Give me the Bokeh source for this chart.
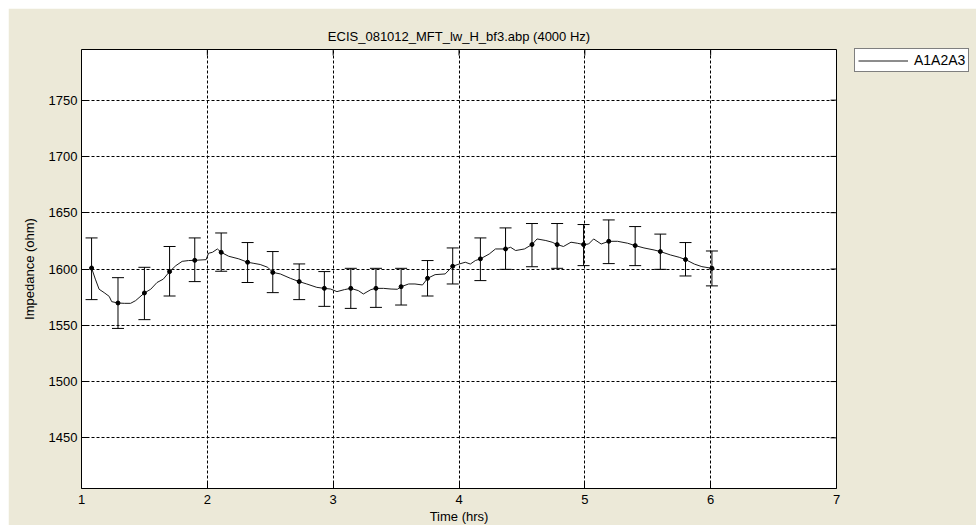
import math
from bokeh.plotting import figure
from bokeh.layouts import column, row
from bokeh.models import (Range1d, FixedTicker, Whisker, TeeHead, Spacer,
                          ColumnDataSource, Legend, LegendItem)
from bokeh.embed import file_html
from bokeh.resources import INLINE

title_text = "ECIS_081012_MFT_lw_H_bf3.abp (4000 Hz)"
series_name = "A1A2A3"

line_t = [1.08, 1.11, 1.14, 1.18, 1.22, 1.24, 1.29, 1.34, 1.39, 1.43, 1.50, 1.55, 1.60, 1.65,
          1.70, 1.75, 1.80, 1.85, 1.90, 1.99, 2.01, 2.04, 2.08, 2.11, 2.17, 2.25, 2.32, 2.37,
          2.42, 2.48, 2.52, 2.58, 2.66, 2.73, 2.79, 2.87, 2.93, 2.98, 3.03, 3.09, 3.14, 3.20,
          3.24, 3.30, 3.34, 3.40, 3.46, 3.51, 3.54, 3.60, 3.65, 3.71, 3.75, 3.81, 3.89, 3.95,
          4.00, 4.05, 4.09, 4.13, 4.17, 4.24, 4.29, 4.37, 4.41, 4.45, 4.52, 4.58, 4.62, 4.69,
          4.74, 4.78, 4.83, 4.89, 4.94, 4.99, 5.03, 5.07, 5.13, 5.19, 5.26, 5.34, 5.40, 5.47,
          5.55, 5.60, 5.68, 5.75, 5.80, 5.87, 5.93, 6.01]
line_z = [1600.9, 1591, 1582, 1579, 1575.7, 1571, 1569.8, 1569.5, 1569.5, 1571.9, 1578.7, 1582,
          1588, 1591, 1597.7, 1603, 1606.8, 1607.5, 1607.7, 1608.3, 1614, 1614.8, 1617.8, 1614.8,
          1611.3, 1609, 1606, 1605, 1604, 1601.5, 1597, 1595.6, 1591.7, 1588.8, 1586.7, 1583.7,
          1582.8, 1582.2, 1579.9, 1581.7, 1582.8, 1580.8, 1577.8, 1581.7, 1582.8, 1582.8, 1582.2,
          1582, 1584.3, 1586.7, 1586.7, 1585.8, 1591.7, 1595, 1595.6, 1602.4, 1604.4, 1606,
          1604.4, 1607.5, 1609, 1613.3, 1617.8, 1617.8, 1619.3, 1616.4, 1617.8, 1621.7, 1626.7,
          1625.3, 1623.8, 1621.7, 1620, 1623.8, 1622.9, 1621.7, 1622.2, 1626.7, 1622.2, 1624.6,
          1624.6, 1622.9, 1620.8, 1618.7, 1616.9, 1615.5, 1612.5, 1610.4, 1608.4, 1604.4, 1602.1,
          1600.6]

mark_t = [1.08, 1.29, 1.50, 1.70, 1.90, 2.11, 2.32, 2.52, 2.73, 2.93, 3.14, 3.34, 3.54, 3.75,
          3.95, 4.17, 4.37, 4.58, 4.78, 4.99, 5.19, 5.40, 5.60, 5.80, 6.01]
mark_z = [1600.9, 1569.8, 1578.7, 1597.7, 1607.7, 1614.8, 1606, 1597, 1588.8, 1582.8, 1582.8,
          1582.8, 1584.3, 1591.7, 1602.4, 1609, 1617.8, 1621.7, 1621.7, 1621.7, 1624.6, 1620.8,
          1615.5, 1608.4, 1600.6]
err_lo = [1572.8, 1547.2, 1555, 1576, 1588.8, 1598, 1588, 1579, 1572.8, 1566.8, 1565, 1565.9,
          1568, 1576, 1586.7, 1589.7, 1599.7, 1602, 1600.6, 1603, 1604.8, 1603, 1599.7, 1593.8,
          1585]
err_hi = [1627.6, 1592.3, 1601.5, 1620, 1627.6, 1632, 1623.5, 1615.5, 1604.5, 1597.7, 1600.6,
          1600.6, 1600.6, 1607.5, 1618.7, 1627.6, 1636.5, 1640.4, 1640.4, 1639.5, 1643.6, 1637.7,
          1631, 1623.5, 1616]

x_ticks = [1, 2, 3, 4, 5, 6, 7]
y_ticks = [1450, 1500, 1550, 1600, 1650, 1700, 1750]
x_min, x_max = 1, 7
y_min, y_max = 1405, 1795

FONT = "Liberation Sans"
BG = "#ECE9D8"

p = figure(frame_width=755, frame_height=439,
           min_border_left=73, min_border_right=140, min_border_top=41, min_border_bottom=37,
           x_range=Range1d(x_min, x_max), y_range=Range1d(y_min, y_max),
           output_backend="svg", toolbar_location=None)

p.background_fill_color = "white"
p.border_fill_color = BG
p.outline_line_color = "black"
p.outline_line_width = 1

p.title.text = title_text
p.title.align = "center"
p.title.text_font = FONT
p.title.text_font_size = "13px"
p.title.text_font_style = "normal"
p.title.text_color = "black"
p.title.standoff = 11

for ax in (p.xaxis[0], p.yaxis[0]):
    ax.major_label_text_font = FONT
    ax.major_label_text_font_size = "13px"
    ax.major_label_text_color = "black"
    ax.axis_label_text_font = FONT
    ax.axis_label_text_font_size = "13px"
    ax.axis_label_text_font_style = "normal"
    ax.axis_label_text_color = "black"
    ax.axis_line_color = None
    ax.major_tick_in = 6
    ax.major_tick_out = 0
    ax.major_tick_line_color = "black"
    ax.minor_tick_line_color = None

p.xaxis[0].ticker = FixedTicker(ticks=x_ticks)
p.yaxis[0].ticker = FixedTicker(ticks=y_ticks)
p.xaxis[0].axis_label = "Time (hrs)"
p.yaxis[0].axis_label = "Impedance (ohm)"
p.xaxis[0].major_label_standoff = 6
p.xaxis[0].axis_label_standoff = 2
p.yaxis[0].major_label_standoff = 4
p.yaxis[0].axis_label_standoff = 9

for g in (p.xgrid[0], p.ygrid[0]):
    g.grid_line_color = "black"
    g.grid_line_dash = "3 2"
    g.grid_line_width = 1
p.xgrid[0].ticker = FixedTicker(ticks=x_ticks)
p.ygrid[0].ticker = FixedTicker(ticks=y_ticks)

# inward ticks on the top and right edges of the box
p.ray(x=x_ticks, y=[y_max] * len(x_ticks), length=6, length_units="screen",
      angle=-math.pi / 2, line_color="black", line_width=1)
p.ray(x=[x_max] * len(y_ticks), y=y_ticks, length=6, length_units="screen",
      angle=math.pi, line_color="black", line_width=1)

line_src = ColumnDataSource(dict(t=line_t, z=line_z))
mark_src = ColumnDataSource(dict(t=mark_t, z=mark_z, lo=err_lo, hi=err_hi))

r_line = p.line("t", "z", source=line_src, line_color="#1a1a1a", line_width=1)

wh = Whisker(base="t", lower="lo", upper="hi", source=mark_src,
             line_color="black", line_width=1,
             upper_head=TeeHead(size=12, line_color="black", line_width=1),
             lower_head=TeeHead(size=12, line_color="black", line_width=1))
p.add_layout(wh)

p.scatter("t", "z", source=mark_src, size=4, color="black")

legend = Legend(items=[LegendItem(label=series_name, renderers=[r_line])],
                location=(18, 416))
legend.label_text_font = FONT
legend.label_text_font_size = "14px"
legend.label_text_color = "black"
legend.label_text_line_height = 1.0
legend.label_height = 11
legend.glyph_height = 11
legend.glyph_width = 50
legend.label_standoff = 6
legend.padding = 3
legend.margin = 0
legend.spacing = 0
legend.border_line_color = "black"
legend.border_line_width = 1
legend.background_fill_color = "white"
legend.background_fill_alpha = 1
p.add_layout(legend, "right")

page = column(Spacer(height=8), row(Spacer(width=8), p))

open("out.html", "w").write(file_html(page, INLINE))
